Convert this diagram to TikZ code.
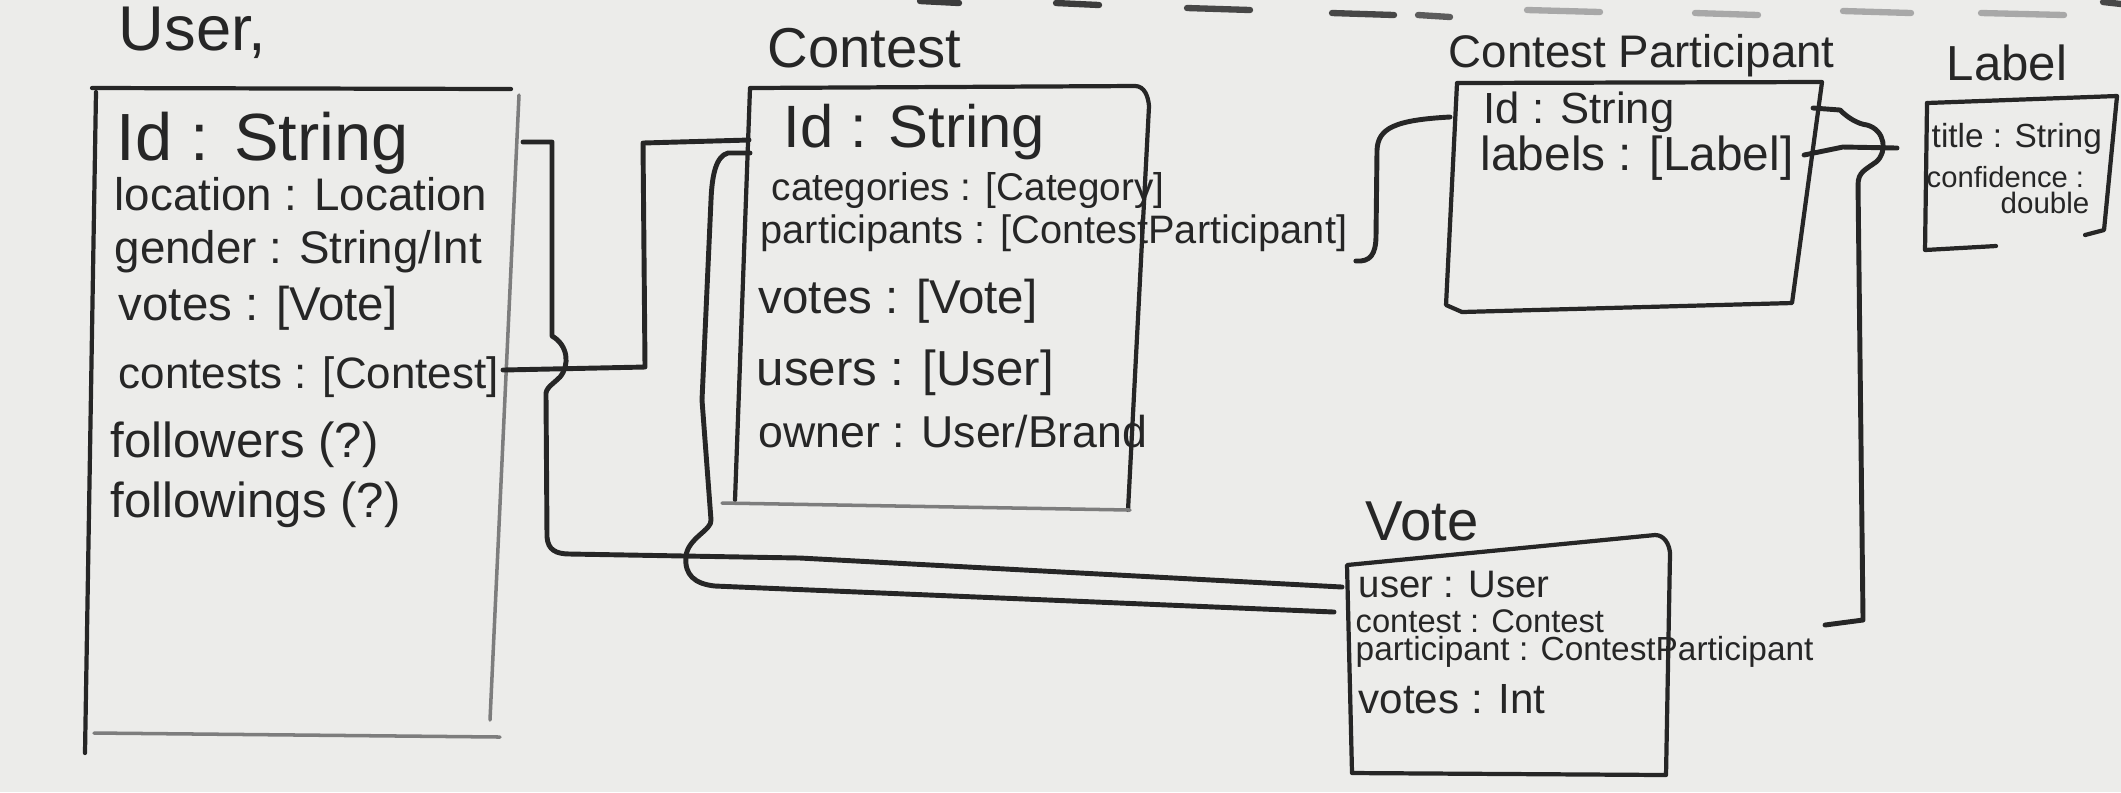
\documentclass[tikz,border=0pt]{standalone}
\usepackage{fontspec}
\setmainfont{Liberation Sans}
\usetikzlibrary{calc}
\definecolor{ink}{RGB}{38,38,38}
\definecolor{board}{RGB}{236,236,234}
\newcommand{\handsz}[1]{\fontsize{#1}{#1}\selectfont}

\begin{document}
\begin{tikzpicture}[x=0.1mm, y=-0.1mm,
    box/.style={draw=ink, line width=1.2pt, line join=round, line cap=round},
    faint/.style={draw=ink!60, line width=1pt, line cap=round},
    link/.style={draw=ink, line width=1.4pt, line join=round, line cap=round},
    attr/.style={anchor=base west, inner sep=0pt, text=ink},
    smudge/.style={line width=1.8pt, line cap=round}]
    % Whiteboard
    \fill[board] (0,0) rectangle (2121,792);
    \useasboundingbox (0,0) rectangle (2121,792);

    % Wiped dashes along the top edge
    \foreach \xa/\xb/\yy/\shade in {920/959/1/90, 1056/1099/3/90, 1187/1250/8/85, 1332/1394/13/85,
                                    1418/1450/15/75, 1527/1600/10/40, 1695/1758/13/40, 1843/1911/11/40,
                                    1981/2064/13/40, 2103/2121/2/85} {
        \draw[smudge, draw=ink!\shade] (\xa,\yy) -- (\xb,\yy+2);
    }

    % User
    \node[attr, font=\handsz{18}] (user-title) at (118,50) {User,};
    \draw[box] (92,88) -- (511,89);
    \draw[box] (96,92) -- (85,753);
    \draw[faint] (519,95) -- (490,720);
    \draw[faint] (94,733) -- (500,737);
    \node[attr, font=\handsz{19}] (u-id) at (116,160) {Id : String};
    \node[attr, font=\handsz{13}] (u-location) at (114,210) {location : Location};
    \node[attr, font=\handsz{13}] (u-gender) at (114,263) {gender : String/Int};
    \node[attr, font=\handsz{13.5}] (u-votes) at (118,320) {votes : [Vote]};
    \node[attr, font=\handsz{12.5}] (u-contests) at (118,388) {contests : [Contest]};
    \node[attr, font=\handsz{14}] (u-followers) at (110,457) {followers (?)};
    \node[attr, font=\handsz{14}] (u-followings) at (110,517) {followings (?)};

    % Contest
    \node[attr, font=\handsz{16}] (contest-title) at (767,67) {Contest};
    \draw[box] (735,500) -- (750,88) -- (1135,86) to[out=0,in=95] (1149,106) -- (1128,510);
    \draw[faint] (722,503) -- (1130,510);
    \node[attr, font=\handsz{17}] (c-id) at (783,147) {Id : String};
    \node[attr, font=\handsz{11}] (c-categories) at (771,200) {categories : [Category]};
    \node[attr, font=\handsz{11.3}] (c-participants) at (760,243) {participants : [ContestParticipant]};
    \node[attr, font=\handsz{13.5}] (c-votes) at (758,313) {votes : [Vote]};
    \node[attr, font=\handsz{14}] (c-users) at (756,385) {users : [User]};
    \node[attr, font=\handsz{12.7}] (c-owner) at (758,447) {owner : User/Brand};

    % Contest Participant
    \node[attr, font=\handsz{13}] (cp-title) at (1448,67) {Contest Participant};
    \draw[box] (1457,83) -- (1822,82) -- (1792,303) -- (1462,312) -- (1446,305) -- cycle;
    \node[attr, font=\handsz{12.4}] (cp-id) at (1483,123) {Id : String};
    \node[attr, font=\handsz{13.6}] (cp-labels) at (1480,170) {labels : [Label]};

    % Label
    \node[attr, font=\handsz{14}] (label-title) at (1946,80) {Label};
    \draw[box] (1927,103) -- (2117,96) -- (2104,230) -- (2085,235);
    \draw[box] (1927,103) -- (1925,250) -- (1996,246);
    \node[attr, font=\handsz{9.5}] (l-title) at (1931,147) {title : String};
    \node[attr, font=\handsz{8.3}] (l-confidence) at (1926,187) {confidence :};
    \node[attr, font=\handsz{8.4}] (l-double) at (2000,213) {double};

    % Vote
    \node[attr, font=\handsz{16}] (vote-title) at (1365,540) {Vote};
    \draw[box] (1352,773) -- (1347,565) -- (1655,535) to[out=0,in=95] (1670,553) -- (1666,775) -- cycle;
    \node[attr, font=\handsz{10.9}] (v-user) at (1358,597) {user : User};
    \node[attr, font=\handsz{9.3}] (v-contest) at (1355,632) {contest : Contest};
    \node[attr, font=\handsz{9.5}] (v-participant) at (1355,660) {participant : ContestParticipant};
    \node[attr, font=\handsz{12}] (v-votes) at (1358,713) {votes : Int};

    % User.contests -> Contest
    \draw[link] ($(u-contests.base west)+(385,-18)$) -- (645,367) -- (643,143)
        -- ($(c-id.base west)+(-34,-7)$);

    % User (brace) -> Vote.user
    \draw[link] ($(u-id.base west)+(407,-18)$) -- (552,142) -- (552,336)
        .. controls (568,345) and (570,365) .. (560,377)
        .. controls (552,385) and (545,388) .. (546,396)
        -- (547,537) .. controls (548,550) and (556,554) .. (570,554)
        -- (800,558) -- ($(v-user.base west)+(-16,-10)$);

    % Contest -> Vote.contest
    \draw[link] ($(c-id.base west)+(-33,6)$) -- (728,153)
        .. controls (716,156) and (712,175) .. (711,200)
        -- (702,400) -- (711,520)
        .. controls (712,530) and (688,538) .. (686,556)
        .. controls (684,575) and (695,584) .. (715,586)
        -- ($(v-contest.base west)+(-21,-20)$);

    % Contest.participants -> Contest Participant
    \draw[link] ($(c-participants.base east)+(8,18)$)
        .. controls (1370,262) and (1376,255) .. (1376,235)
        -- (1377,150) .. controls (1378,128) and (1395,120) .. ($(cp-id.base west)+(-33,-6)$);

    % Contest Participant -> Vote.participant
    \draw[link] ($(cp-id.base west)+(330,-15)$) -- (1840,110)
        .. controls (1848,118) and (1858,124) .. (1867,125)
        .. controls (1885,130) and (1888,152) .. (1876,162)
        .. controls (1865,170) and (1858,172) .. (1858,185)
        -- (1863,620) -- ($(v-participant.base west)+(470,-35)$);

    % Contest Participant.labels -> Label
    \draw[link] ($(cp-labels.base east)+(10,-15)$) -- (1843,147)
        -- ($(l-title.base west)+(-34,1)$);
\end{tikzpicture}
\end{document}
